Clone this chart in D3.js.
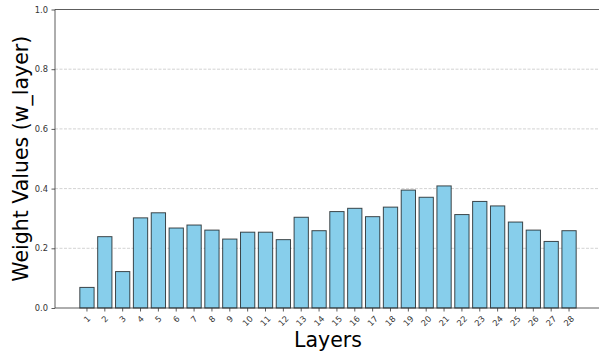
<!DOCTYPE html>
<html><head><meta charset="utf-8">
<script src="https://cdn.jsdelivr.net/npm/d3@7"></script>
<style>body{margin:0;background:#fff}svg{display:block}text{font-family:"DejaVu Sans",sans-serif}</style>
</head><body>
<svg id="c" width="599" height="354"></svg>
<script>
const layers = ["1","2","3","4","5","6","7","8","9","10","11","12","13","14","15","16","17","18","19","20","21","22","23","24","25","26","27","28"];
const weights = [0.069,0.239,0.122,0.302,0.319,0.268,0.278,0.261,0.231,0.254,0.254,0.229,0.304,0.259,0.323,0.334,0.306,0.338,0.395,0.371,0.409,0.313,0.357,0.342,0.288,0.261,0.223,0.259];
const yTicks = [0.0,0.2,0.4,0.6,0.8,1.0];

const svg = d3.select("#c");
const L = 55, R = 601, T = 9.5, B = 308;
const n = layers.length;
const pad = (n - 1 + 0.8) * 0.05;
const x = d3.scaleLinear().domain([1 - 0.4 - pad, n + 0.4 + pad]).range([L, R]);
const y = d3.scaleLinear().domain([0, 1]).range([B, T]);

// grid
svg.append("g").selectAll("line").data(yTicks.filter(t => t > 0 && t < 1)).join("line")
  .attr("x1", L).attr("x2", R).attr("y1", d => y(d)).attr("y2", d => y(d))
  .attr("stroke", "#b0b0b0").attr("stroke-opacity", 0.7).attr("stroke-width", 0.8)
  .attr("stroke-dasharray", "3,1.5");

// bars
svg.append("g").selectAll("rect").data(weights).join("rect")
  .attr("x", (d, i) => x(i + 1 - 0.4)).attr("width", x(0.8) - x(0))
  .attr("y", d => y(d)).attr("height", d => y(0) - y(d))
  .attr("fill", "#87ceeb").attr("stroke", "#000").attr("stroke-opacity", 0.7).attr("stroke-width", 1);

// spines
svg.append("line").attr("x1", L).attr("x2", R).attr("y1", B).attr("y2", B).attr("stroke", "#333").attr("stroke-width", 0.8);
svg.append("line").attr("x1", L).attr("x2", R).attr("y1", T).attr("y2", T).attr("stroke", "#333").attr("stroke-width", 0.8);
svg.append("line").attr("x1", L).attr("x2", L).attr("y1", T).attr("y2", B).attr("stroke", "#333").attr("stroke-width", 0.8);

// y axis
const yAxis = d3.axisLeft(y).tickValues(yTicks).tickFormat(d3.format(".1f")).tickSize(3.5).tickPadding(3.5);
const gy = svg.append("g").attr("transform", `translate(${L},0)`).call(yAxis);
gy.select(".domain").remove();
gy.selectAll("line").attr("stroke", "#333").attr("stroke-width", 0.8);
gy.selectAll("text").attr("font-size", 8.3).attr("fill", "#333").attr("font-family", "DejaVu Sans");

// x axis
const gx = svg.append("g");
layers.forEach((lab, i) => {
  const cx = x(i + 1);
  gx.append("line").attr("x1", cx).attr("x2", cx).attr("y1", B).attr("y2", B + 3.5).attr("stroke", "#333").attr("stroke-width", 0.8);
  const t = gx.append("text").text(lab).attr("font-size", 8.3).attr("fill", "#333")
    .attr("text-anchor", "middle").attr("dy", "0.35em");
  const w = t.node().getComputedTextLength();
  const h = 6.2;
  const cy = B + 3.5 + 3.5 + (w + h) / (2 * Math.SQRT2);
  t.attr("transform", `translate(${cx},${cy}) rotate(-45)`);
});

// axis labels
svg.append("text").text("Layers").attr("x", (L + R) / 2).attr("y", 346.5)
  .attr("text-anchor", "middle").attr("font-size", 20.5).attr("fill", "#000");
svg.append("text").text("Weight Values (w_layer)")
  .attr("transform", `translate(28,${(T + B) / 2}) rotate(-90)`)
  .attr("text-anchor", "middle").attr("font-size", 20.5).attr("fill", "#000");
</script>
</body></html>
